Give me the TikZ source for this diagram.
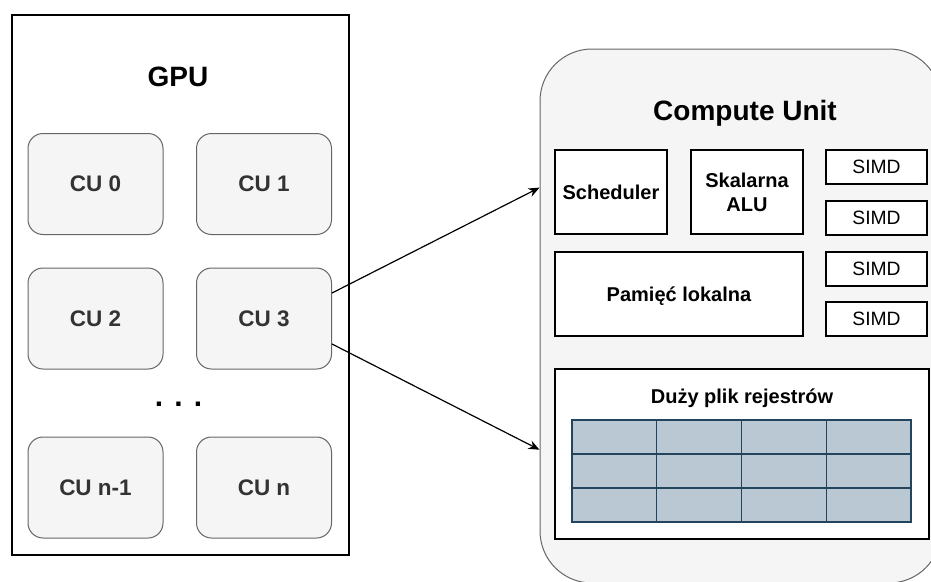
\documentclass[tikz,border=0pt]{standalone}
\usepackage{fontspec}
\setmainfont{Liberation Sans}
\usetikzlibrary{arrows.meta,calc}

\definecolor{cufill}{HTML}{F5F5F5}
\definecolor{cuedge}{HTML}{666666}
\definecolor{cutext}{HTML}{333333}
\definecolor{regfill}{HTML}{BAC8D3}
\definecolor{regedge}{HTML}{23445D}

\begin{document}
\begin{tikzpicture}[x=1pt,y=-1pt,
  big/.style={font=\fontsize{28}{34}\selectfont\bfseries},
  cubox/.style={draw=cuedge, fill=cufill, rounded corners=15pt, line width=1pt,
    text=cutext, font=\fontsize{22.5}{27}\selectfont\bfseries,
    minimum width=135pt, minimum height=101pt, inner sep=0pt, text depth=0pt},
  part/.style={draw=black, fill=white, line width=1.2pt, inner sep=0pt,
    font=\fontsize{20}{24}\selectfont\bfseries, align=center},
  simd/.style={draw=black, fill=white, line width=1.2pt, inner sep=0pt,
    minimum width=101pt, minimum height=34pt,
    font=\fontsize{19.3}{23}\selectfont},
  cell/.style={draw=regedge, fill=regfill, line width=1.4pt},
  link/.style={draw=black, line width=1.2pt, -{Stealth[length=11pt,width=9pt]}}
]
\clip (0,0) rectangle (931,581);
\fill[white] (0,0) rectangle (931,581);

% --- GPU with its compute units ---
\node[draw=black, line width=1.4pt, minimum width=337pt, minimum height=540pt,
  inner sep=0pt] (gpu) at (180.5,285) {};
\node[big, anchor=base] (gputitle) at (178,86) {GPU};

\node[cubox] (cu0) at (95.5,184) {CU 0};
\node[cubox] (cu1) at (264,184) {CU 1};
\node[cubox] (cu2) at (95.5,318.5) {CU 2};
\node[cubox] (cu3) at (264,318.5) {CU 3};
\node[cubox] (cun1) at (95.5,487.5) {CU n-1};
\node[cubox] (cun) at (264,487.5) {CU n};
\node[font=\fontsize{30}{36}\selectfont\bfseries, anchor=base] (dots) at (178.5,406) {. . .};

% --- inside of a compute unit ---
\node[draw=cuedge, fill=cufill, line width=1pt, rounded corners=52pt,
  minimum width=401pt, minimum height=534pt, inner sep=0pt] (unit) at (740.5,316) {};
\node[big, anchor=base] (unittitle) at (745,120) {Compute Unit};

\node[part, minimum width=112pt, minimum height=84pt, text depth=0pt] (sched) at (611,192) {Scheduler};
\node[part, minimum width=112pt, minimum height=84pt] (alu) at (747,192) {Skalarna\\ALU};
\node[part, minimum width=248pt, minimum height=84pt, text depth=0pt] (lds) at (679,294) {Pamięć lokalna};

\node[simd] (simd1) at (876.5,167) {SIMD};
\node[simd] (simd2) at (876.5,218) {SIMD};
\node[simd] (simd3) at (876.5,269) {SIMD};
\node[simd] (simd4) at (876.5,319) {SIMD};

\node[part, minimum width=374pt, minimum height=170pt] (regs) at (742,454) {};
\node[font=\fontsize{20}{24}\selectfont\bfseries, anchor=base] (regstitle) at (742,403) {Duży plik rejestrów};

% register grid: 4 columns x 3 rows
\foreach \c in {0,1,2,3}{
  \foreach \r in {0,1,2}{
    \draw[cell] ({572+\c*84.75},{420+\r*34}) rectangle ++(84.75,34);
  }
}

% --- connectors ---
\coordinate (inA) at ($(unit.north west)!0.26!(unit.south west)$);
\coordinate (inB) at ($(unit.north west)!0.75!(unit.south west)$);
\draw[link] ($(cu3.north east)!0.25!(cu3.south east)$) -- (inA);
\draw[link] ($(cu3.north east)!0.75!(cu3.south east)$) -- (inB);
\end{tikzpicture}
\end{document}
